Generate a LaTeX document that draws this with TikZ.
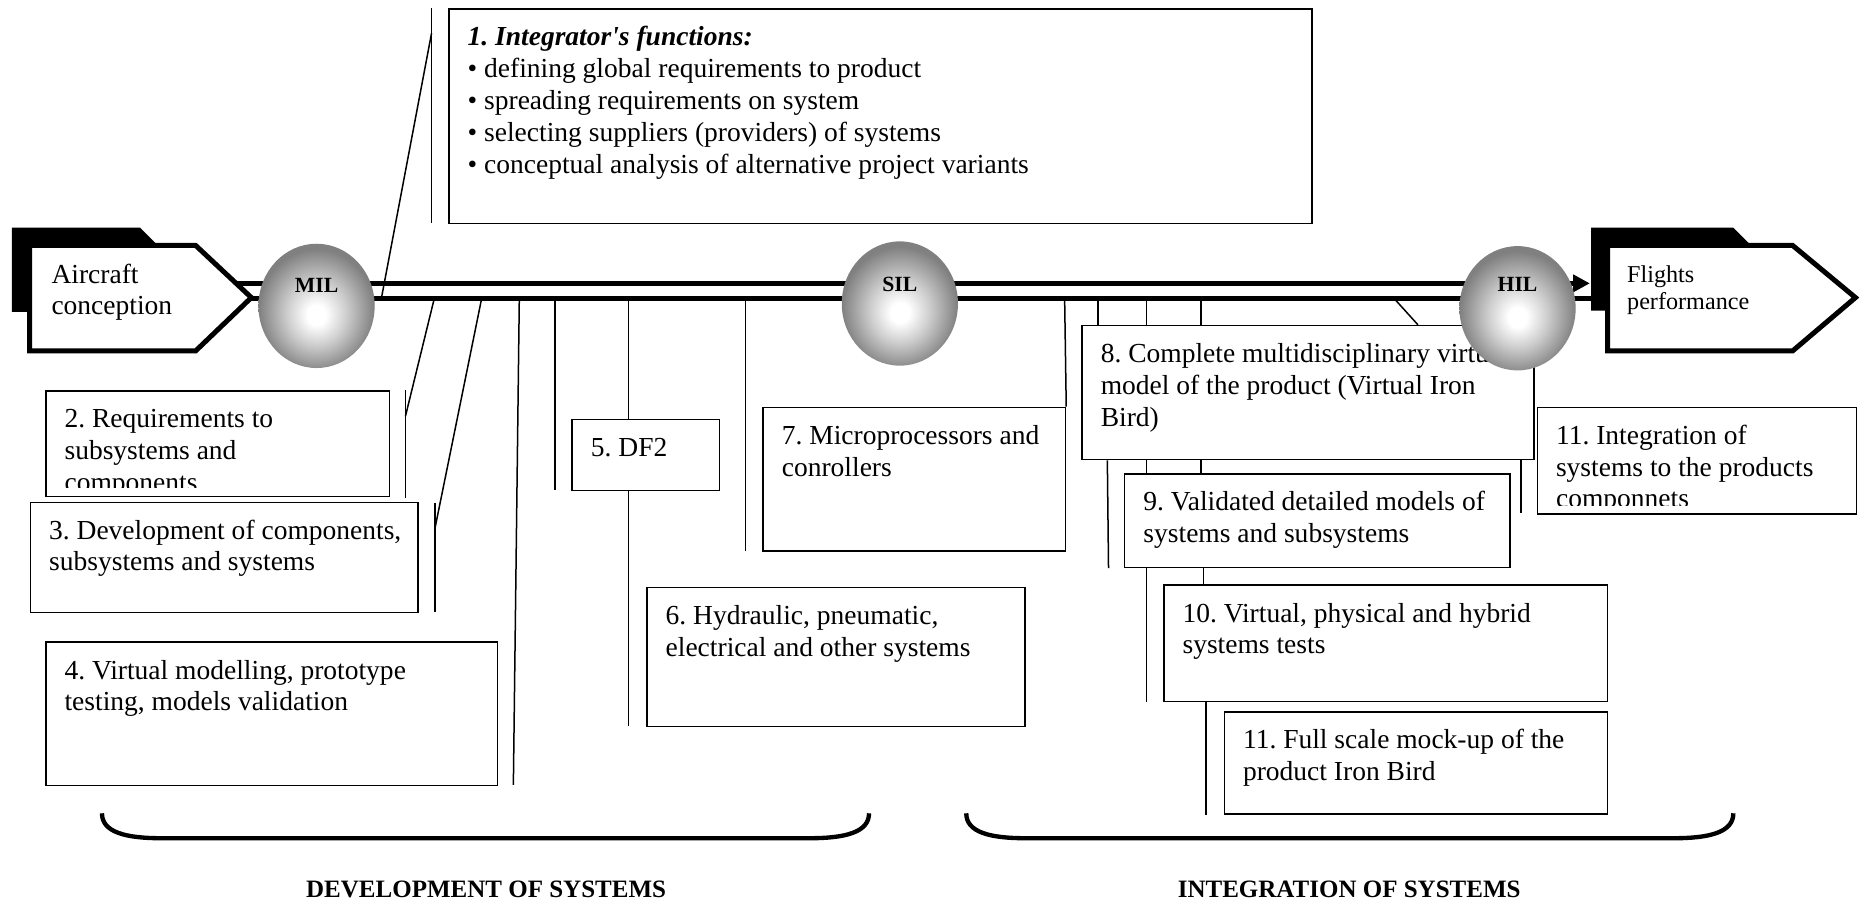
\documentclass[tikz,border=0pt]{standalone}
\usepackage{fontspec}
\setmainfont{Liberation Serif}
\usetikzlibrary{arrows.meta,shapes.geometric}
\frenchspacing

% grey ball with a light spot a bit below the middle
\pgfdeclareradialshading{ballshade}{\pgfpoint{0bp}{-4bp}}{%
  color(0bp)=(white); color(4bp)=(white); color(13bp)=(black!20);
  color(21bp)=(black!40); color(25bp)=(black!50); color(50bp)=(black!50)}

\newcommand{\boxfont}{\fontsize{16.5}{19.1}\selectfont}
\newcommand{\flfont}{\fontsize{14.5}{16.3}\selectfont}

\begin{document}
\begin{tikzpicture}[x=0.025cm,y=-0.025cm]
\tikzstyle{every node}=[font=\boxfont]
\tikzstyle{box}=[draw, fill=white, line width=0.9pt, anchor=north west, inner sep=0pt]
\tikzstyle{txt}=[anchor=north west, align=left, inner xsep=11.5pt, inner ysep=9pt]
\tikzstyle{link}=[line width=0.9pt]
\tikzstyle{bar}=[line width=2.8pt]
\tikzstyle{ball}=[ellipse, minimum width=2.45cm, minimum height=2.62cm, shading=ballshade]
\tikzstyle{ball label}=[anchor=base, font=\fontsize{13}{15}\selectfont\bfseries]
\tikzstyle{arrowshape}=[line width=3pt, fill=white]
\tikzstyle{brace}=[line width=2.6pt]
\tikzstyle{stage}=[anchor=base, font=\fontsize{15}{17}\selectfont\bfseries]

% white background
\fill[white] (0,0) rectangle (1568,762);
\useasboundingbox (0,0) rectangle (1568,762);

% the double bar
\draw[bar, -{Triangle[length=10pt,width=10pt]}] (190,239) -- (1341,239);
\draw[bar] (190,252) -- (1350,252);

% links above the bar
\draw[link] (322,250) -- (364,28);
\draw[link] (364,7) -- (364,188);

% integrator box
\node[box, minimum width=18.2cm, minimum height=4.525cm] (b1) at (378,7) {};
\node[txt] (t1) at (b1.north west) {\strut\textbf{\textit{1. Integrator\textquotesingle s functions:}}\\
  \textbullet\ defining global requirements to product\\
  \textbullet\ spreading requirements on system\\
  \textbullet\ selecting suppliers (providers) of systems\\
  \textbullet\ conceptual analysis of alternative project variants};

% development boxes
\node[box, minimum width=7.25cm, minimum height=2.225cm] (b2) at (38,329) {};
\begin{scope}
\clip (b2.north west) rectangle ([yshift=0.2cm]b2.south east);
\node[txt] (t2) at (b2.north west) {\strut 2. Requirements to\\subsystems and\\components};
\end{scope}
\node[box, minimum width=8.175cm, minimum height=2.325cm] (b3) at (25,423) {};
\node[txt] (t3) at (b3.north west) {\strut 3. Development of components,\\subsystems and systems};
\node[box, minimum width=9.525cm, minimum height=3.025cm] (b4) at (38,541) {};
\node[txt] (t4) at (b4.north west) {\strut 4. Virtual modelling, prototype\\testing, models validation};
\node[box, minimum width=3.1cm, minimum height=1.5cm] (b5) at (482,353) {};
\node[txt] (t5) at (b5.north west) {\strut 5. DF2};
\node[box, minimum width=7.975cm, minimum height=2.925cm] (b6) at (545,495) {};
\node[txt] (t6) at (b6.north west) {\strut 6. Hydraulic, pneumatic,\\electrical and other systems};
\node[box, minimum width=6.375cm, minimum height=3.025cm] (b7) at (643,343) {};
\node[txt] (t7) at (b7.north west) {\strut 7. Microprocessors and\\conrollers};

% links to the development boxes
\draw[link] (366,253) -- (342,351);
\draw[link] (342,329) -- (342,420);
\draw[link] (406,253) -- (367,445);
\draw[link] (367,424) -- (367,516);
\draw[link] (438,253) -- (433,662);
\draw[link] (468,253) -- (468,413);
\draw[link] (530,253) -- (b5.north -| 530,0);
\draw[link] (b5.south -| 530,0) -- (530,612);
\draw[link] (629,253) -- (629,465);
\draw[link] (898,253) -- (b7.north east);

% integration boxes
\node[box, minimum width=9.525cm, minimum height=2.825cm] (b8) at (912,274) {};
\node[txt] (t8) at (b8.north west) {\strut 8. Complete multidisciplinary virtual\\model of the product (Virtual Iron\\Bird)};
\node[box, minimum width=8.125cm, minimum height=1.975cm] (b9) at (948,399) {};
\node[txt] (t9) at (b9.north west) {\strut 9. Validated detailed models of\\systems and subsystems};
\node[box, minimum width=9.35cm, minimum height=2.45cm] (b10) at (981,493) {};
\node[txt] (t10) at (b10.north west) {\strut 10. Virtual, physical and hybrid\\systems tests};
\node[box, minimum width=8.075cm, minimum height=2.15cm] (b11) at (1032,600) {};
\node[txt] (t11) at (b11.north west) {\strut 11. Full scale mock-up of the\\product Iron Bird};
\node[box, minimum width=6.725cm, minimum height=2.25cm] (b12) at (1296,343) {};
\begin{scope}
\clip (b12.north west) rectangle ([yshift=0.2cm]b12.south east);
\node[txt] (t12) at (b12.north west) {\strut 11. Integration of\\systems to the products\\componnets};
\end{scope}

% links to the integration boxes
\foreach \x in {926,967,1013}
  \draw[link] (\x,253) -- (b8.north -| \x,0);
\draw[link] (1177,253) -- (b8.north -| 1196,0);
\draw[link] (b8.south -| 934,0) -- (b9.south -| 935,0);
\foreach \x in {967,1013}
  \draw[link] (b8.south -| \x,0) -- (b9.north -| \x,0);
\draw[link] (b9.south -| 967,0) -- (b10.south -| 967,0);
\draw[link] (b9.south -| 1015,0) -- (b10.north -| 1015,0);
\draw[link] (b10.south -| 1017,0) -- (b11.south -| 1017,0);
\draw[link] (b8.south -| 1283,0) -- (1283,433);

% the three balls
\node[ball] (mil) at (267,258) {};
\node[ball] (sil) at (759,256) {};
\node[ball] (hil) at (1280,260) {};
\node[ball label] (mil-l) at (267,247) {MIL};
\node[ball label] (sil-l) at (759,246) {SIL};
\node[ball label] (hil-l) at (1280,246) {HIL};

% aircraft conception
\fill (10,192) -- (118,192) -- (131,205) -- (131,263) -- (10,263) -- cycle;
\draw[arrowshape] (25,207) -- (165,207) -- (212,251) -- (165,296) -- (25,296) -- cycle;
\node[txt] (ac) at (27,207) {\strut Aircraft\\conception};

% flights performance
\fill (1342,192) -- (1462,192) -- (1476,206) -- (1476,262) -- (1342,262) -- cycle;
\draw[arrowshape] (1356,207) -- (1512,207) -- (1565,251) -- (1512,296) -- (1356,296) -- cycle;
\node[txt, font=\flfont] (fp) at (1356,209) {\strut Flights\\performance};

% braces and stage names
\draw[brace] (86,686) .. controls (86,702) and (106,707) .. (136,707) -- (683,707) .. controls (713,707) and (733,702) .. (733,686);
\draw[brace] (815,686) .. controls (815,702) and (835,707) .. (865,707) -- (1412,707) .. controls (1442,707) and (1462,702) .. (1462,686);
\node[stage] (dev) at (410,757) {DEVELOPMENT OF SYSTEMS};
\node[stage] (int) at (1138,757) {INTEGRATION OF SYSTEMS};

\end{tikzpicture}
\end{document}
